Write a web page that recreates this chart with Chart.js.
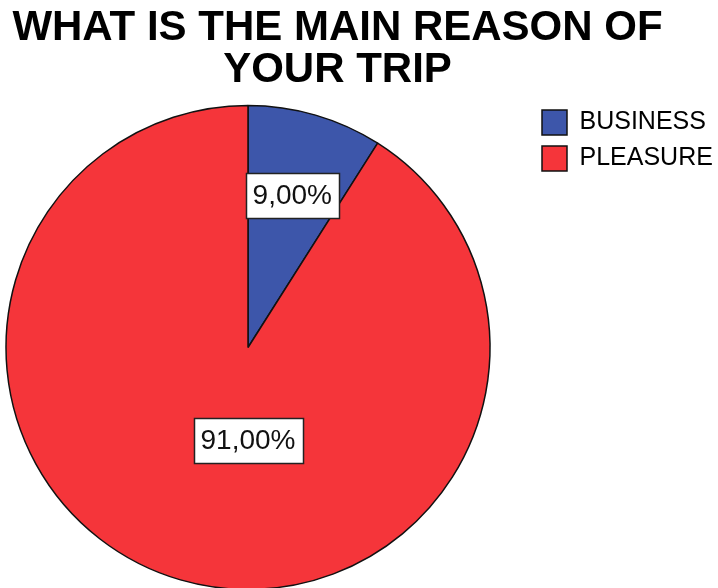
<!DOCTYPE html>
<html>
<head>
<meta charset="utf-8">
<title>Main reason of trip</title>
<script src="https://cdn.jsdelivr.net/npm/chart.js@4/dist/chart.umd.min.js"></script>
<style>
    html, body { margin: 0; padding: 0; background: #fff; overflow: hidden; width: 718px; height: 588px; }
    /* canvas is a little larger than the page so the pie can sit close to the left edge */
    canvas { display: block; margin-left: -35px; }
</style>
</head>
<body>
<canvas id="tripReasonChart" width="760" height="596"></canvas>
<script>
const titleLines = ['WHAT IS THE MAIN REASON OF', 'YOUR TRIP'];
const reasons = ['BUSINESS', 'PLEASURE'];
const shares = [9, 91];
const sliceColors = ['#3d56aa', '#f5353a'];

// where each percentage box sits: fraction of the radius, plus a fixed angle when given
const labelSpots = [{ frac: 0.656 }, { frac: 0.384, angle: Math.PI / 2 }];

const FONT = "'Liberation Sans', Arial, sans-serif";

// white boxes with the share written as 9,00%
const valueBoxes = {
    id: 'valueBoxes',
    afterDatasetsDraw(chart) {
        const ctx = chart.ctx;
        const meta = chart.getDatasetMeta(0);
        ctx.save();
        ctx.font = '28px ' + FONT;
        ctx.textAlign = 'center';
        ctx.textBaseline = 'middle';
        meta.data.forEach((arc, i) => {
            const p = arc.getProps(['x', 'y', 'startAngle', 'endAngle', 'outerRadius'], true);
            const spot = labelSpots[i];
            const angle = spot.angle !== undefined ? spot.angle : (p.startAngle + p.endAngle) / 2;
            const cx = p.x + Math.cos(angle) * p.outerRadius * spot.frac;
            const cy = p.y + Math.sin(angle) * p.outerRadius * spot.frac;
            const text = shares[i].toFixed(2).replace('.', ',') + '%';
            const w = Math.round(ctx.measureText(text).width + 14);
            const h = 45;
            const left = Math.round(cx - w / 2) + 0.5;
            const top = Math.round(cy - h / 2) + 0.5;
            ctx.fillStyle = '#fff';
            ctx.fillRect(left, top, w, h);
            ctx.strokeStyle = '#222';
            ctx.lineWidth = 1.5;
            ctx.strokeRect(left, top, w, h);
            ctx.fillStyle = '#111';
            ctx.fillText(text, cx, cy + 1);
        });
        ctx.restore();
    }
};

new Chart(document.getElementById('tripReasonChart'), {
    type: 'pie',
    data: {
        labels: reasons,
        datasets: [{
            data: shares,
            backgroundColor: sliceColors,
            borderColor: '#111',
            borderWidth: 1.5,
            radius: 242
        }]
    },
    options: {
        responsive: false,
        animation: false,
        events: [],
        layout: {
            // the negative left value only moves the title; the chart area stops at 0
            padding: { left: -6, right: 9, top: 0, bottom: 0 }
        },
        plugins: {
            title: {
                display: true,
                text: titleLines,
                color: '#000',
                padding: { top: 7, bottom: 8 },
                font: { family: FONT, size: 42, weight: 'bold', lineHeight: 1 }
            },
            legend: {
                position: 'right',
                align: 'start',
                fullSize: false,
                maxWidth: 185,
                labels: {
                    boxWidth: 25,
                    boxHeight: 25,
                    padding: 11,
                    color: '#000',
                    font: { family: FONT, size: 25 }
                }
            },
            tooltip: { enabled: false }
        }
    },
    plugins: [valueBoxes]
});
</script>
</body>
</html>
